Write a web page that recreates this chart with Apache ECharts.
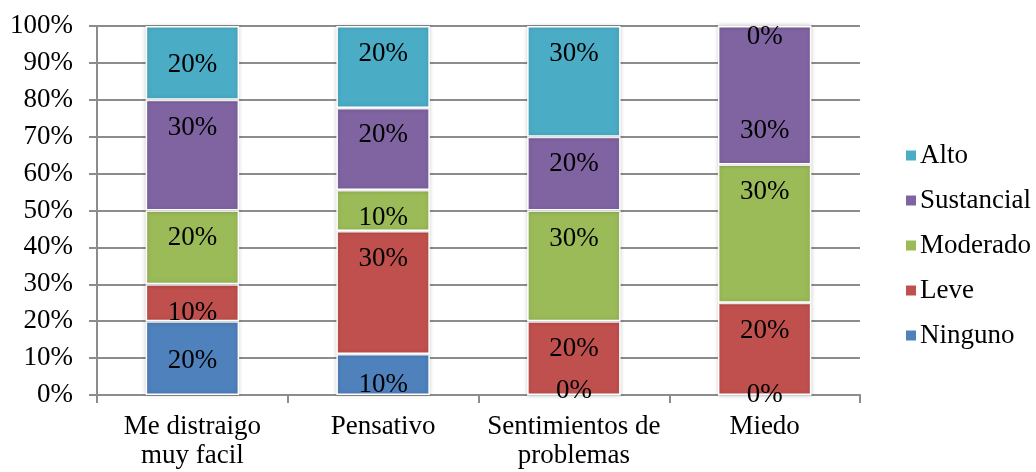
<!DOCTYPE html>
<html>
<head>
<meta charset="utf-8">
<script src="https://cdn.jsdelivr.net/npm/echarts@6/dist/echarts.min.js"></script>
<style>
  html, body { margin: 0; padding: 0; background: #ffffff; }
  #chart { width: 1036px; height: 472px; }
</style>
</head>
<body>
<div id="chart"></div>
<script>
// Survey responses per item (percent of respondents at each level)
const categories = ['Me distraigo\nmuy facil', 'Pensativo', 'Sentimientos de\nproblemas', 'Miedo'];
const ninguno    = [20, 10, 0, 0];
const leve       = [10, 30, 20, 20];
const moderado   = [20, 10, 30, 30];
const sustancial = [30, 20, 20, 30];
const alto       = [20, 20, 30, 0];
const yTicks = [0, 10, 20, 30, 40, 50, 60, 70, 80, 90, 100];

// Vertical nudges (px) for the value labels inside each segment
const labelNudge = {
  Ninguno:    [3, 10, -4, 0],
  Leve:       [10, -34, -9, -18],
  Moderado:   [-9, 7, -27, -42],
  Sustancial: [-27, -14, -10, 36],
  Alto:       [2, -13, -27, 11]
};

const FONT = '"Times New Roman", "Liberation Serif", serif';
const FONT_SIZE = 27;
const levels = [
  { name: 'Ninguno',    values: ninguno,    color: '#4F81BD' },
  { name: 'Leve',       values: leve,       color: '#C0504D' },
  { name: 'Moderado',   values: moderado,   color: '#9BBB59' },
  { name: 'Sustancial', values: sustancial, color: '#8064A2' },
  { name: 'Alto',       values: alto,       color: '#4BACC6' }
];

// 100% stacked: each column is scaled to its own total, labels keep the raw value
const totals = categories.map((_, i) => levels.reduce((s, l) => s + l.values[i], 0));

const series = levels.map(l => ({
  name: l.name,
  type: 'bar',
  stack: 'total',
  barWidth: '49%',
  itemStyle: {
    color: l.color,
    borderColor: '#ffffff',
    borderWidth: 1.5,
    shadowColor: 'rgba(0,0,0,0.18)',
    shadowBlur: 4
  },
  label: {
    show: true,
    position: 'inside',
    color: '#000000',
    fontFamily: FONT,
    fontSize: FONT_SIZE,
    formatter: p => l.values[p.dataIndex] + '%'
  },
  data: l.values.map((v, i) => ({
    value: v / totals[i] * 100,
    label: { offset: [0, labelNudge[l.name][i]] }
  }))
}));

const chart = echarts.init(document.getElementById('chart'));
chart.setOption({
  animation: false,
  backgroundColor: '#ffffff',
  grid: { left: 97, right: 176, top: 26, bottom: 77, containLabel: false },
  legend: {
    orient: 'vertical',
    left: 899,
    top: 137,
    itemWidth: 12,
    itemHeight: 12,
    itemGap: 18,
    icon: 'rect',
    data: ['Alto', 'Sustancial', 'Moderado', 'Leve', 'Ninguno'],
    textStyle: { fontFamily: FONT, fontSize: FONT_SIZE, color: '#000000', lineHeight: 27, padding: [0, 0, 0, -2] }
  },
  xAxis: {
    type: 'category',
    data: categories,
    boundaryGap: true,
    axisLine: { show: true, lineStyle: { color: '#8c8c8c', width: 2 } },
    axisTick: { show: true, alignWithLabel: false, length: 8, lineStyle: { color: '#8c8c8c', width: 2 } },
    axisLabel: { fontFamily: FONT, fontSize: FONT_SIZE, color: '#000000', margin: 17, lineHeight: 29, interval: 0 },
    splitLine: { show: false }
  },
  yAxis: {
    type: 'value',
    min: yTicks[0],
    max: yTicks[yTicks.length - 1],
    interval: yTicks[1] - yTicks[0],
    axisLine: { show: true, lineStyle: { color: '#8c8c8c', width: 2 } },
    axisTick: { show: true, length: 8, lineStyle: { color: '#8c8c8c', width: 2 } },
    axisLabel: { fontFamily: FONT, fontSize: FONT_SIZE, color: '#000000', margin: 24, formatter: '{value}%' },
    splitLine: { show: true, lineStyle: { color: '#8c8c8c', width: 2 } }
  },
  series: series
});
</script>
</body>
</html>
